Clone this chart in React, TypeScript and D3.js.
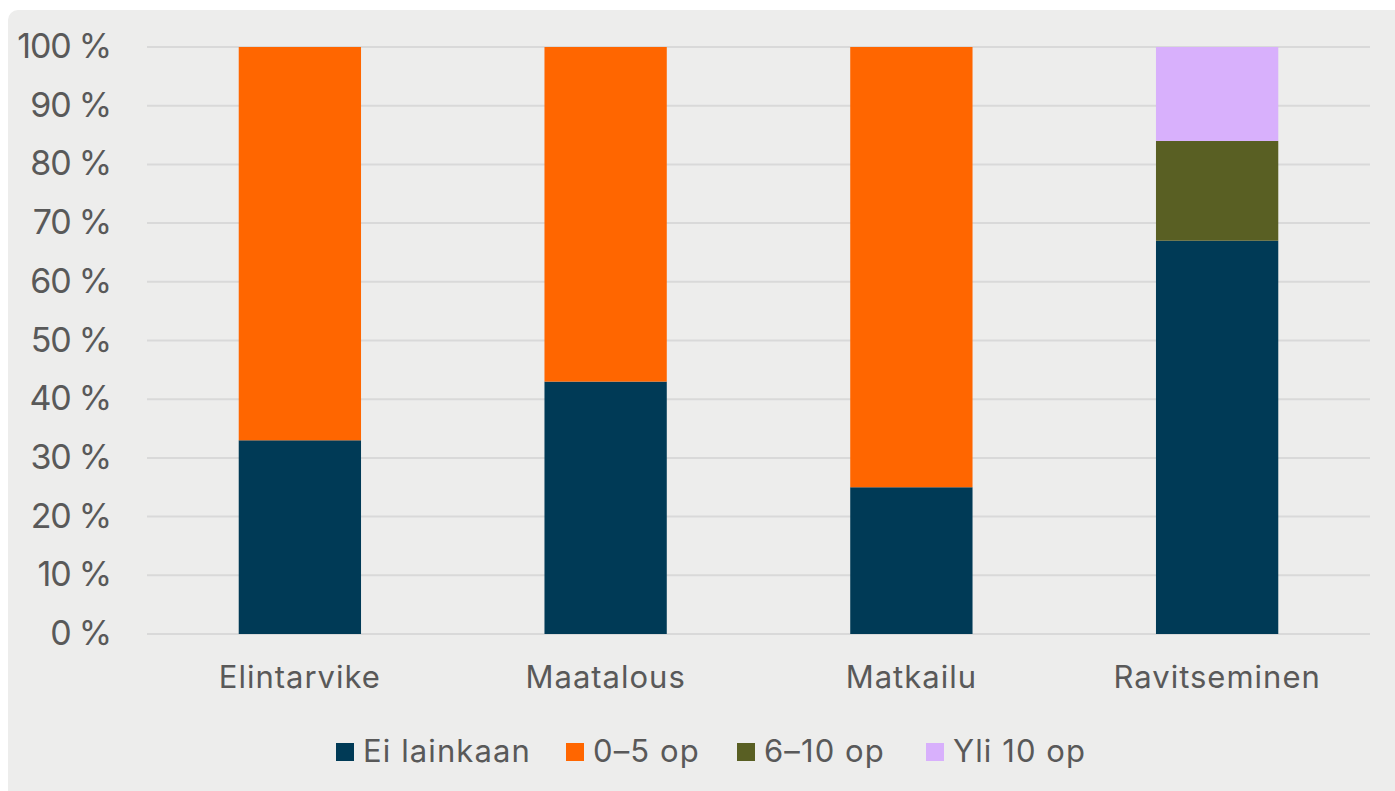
import React from "react";
import * as d3 from "d3";

const categories = ["Elintarvike", "Maatalous", "Matkailu", "Ravitseminen"];
const seriesNames = ["Ei lainkaan", "0–5 op", "6–10 op", "Yli 10 op"];
const eiLainkaan = [33, 43, 25, 67];
const op0to5 = [67, 57, 75, 0];
const op6to10 = [0, 0, 0, 17];
const yli10 = [0, 0, 0, 16];
const yTicks = [0, 10, 20, 30, 40, 50, 60, 70, 80, 90, 100];
const colors = ["#003a56", "#ff6600", "#595f23", "#d8b0fc"];

const W = 1395;
const H = 791;
const FONT = "Inter, 'Noto Sans', sans-serif";
const TXT = "#595959";

export default function App() {
  const rows = categories.map((c, i) => ({
    cat: c,
    s0: eiLainkaan[i],
    s1: op0to5[i],
    s2: op6to10[i],
    s3: yli10[i],
  }));
  const keys = ["s0", "s1", "s2", "s3"];
  const stacked = d3.stack<any>().keys(keys)(rows);

  const x = d3
    .scaleBand<string>()
    .domain(categories)
    .range([147, 1370])
    .paddingInner(0.6)
    .paddingOuter(0.3);
  const y = d3.scaleLinear().domain([0, 100]).range([634, 47]);

  const legendX = [336, 566, 737, 926];

  return (
    <svg
      width={W}
      height={H}
      style={{ position: "absolute", left: 0, top: 0, fontFamily: FONT }}
    >
      <rect x={0} y={0} width={W} height={H} fill="#ffffff" />
      <rect x={8} y={10} width={W + 20} height={H - 10 + 20} rx={10} fill="#ededec" />
      {yTicks.map((t) => (
        <g key={t}>
          <line
            x1={147}
            x2={1370}
            y1={y(t)}
            y2={y(t)}
            stroke="#d9d9d9"
            strokeWidth={2}
          />
          <text
            x={111}
            y={y(t) + 11}
            textAnchor="end"
            fontSize={34}
            letterSpacing={-1.2}
            fill={TXT}
          >
            {t} %
          </text>
        </g>
      ))}
      {stacked.map((layer, li) => (
        <g key={li} fill={colors[li]}>
          {layer.map((d, i) =>
            d[1] - d[0] > 0 ? (
              <rect
                key={i}
                x={x(categories[i])}
                width={x.bandwidth()}
                y={y(d[1])}
                height={y(d[0]) - y(d[1])}
              />
            ) : null
          )}
        </g>
      ))}
      {categories.map((c) => (
        <text
          key={c}
          x={(x(c) as number) + x.bandwidth() / 2}
          y={688}
          textAnchor="middle"
          fontSize={31}
          letterSpacing={1}
          fill={TXT}
        >
          {c}
        </text>
      ))}
      {seriesNames.map((s, i) => (
        <g key={s}>
          <rect x={legendX[i]} y={743} width={18} height={18} fill={colors[i]} />
          <text
            x={legendX[i] + 27}
            y={762}
            fontSize={31}
            letterSpacing={1.1}
            fill={TXT}
          >
            {s}
          </text>
        </g>
      ))}
    </svg>
  );
}
